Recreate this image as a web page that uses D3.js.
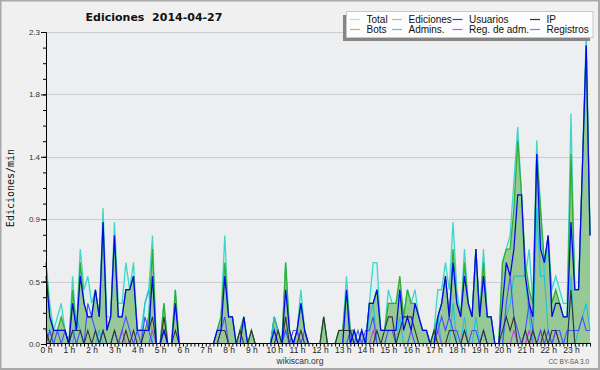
<!DOCTYPE html>
<head>
  <meta charset="utf-8">
  <script src="https://d3js.org/d3.v7.min.js"></script>
  <style>
    body { margin: 0; background: #f0f0f0; }
    svg text { font-family: "Liberation Sans", Arial, sans-serif; }
  </style>
</head>
<body>
  <svg width="600" height="370"></svg>
  <script>

  // values per 10 minutes, 0:00 .. 23:50 (144 points), edits per minute
  var total = [
    0.6,0.3,0.1,0.2,0.3,0.1,0,0.5,0.1,0.7,0.4,0.5,
    0.3,0.4,0.2,1.0,0.2,0.2,0.9,0.3,0.3,0.6,0.4,0.6,
    0.1,0.1,0.3,0.4,0.8,0,0,0.3,0,0,0.4,0,
    0,0,0,0,0,0,0,0,0,0.1,0.2,0.8,
    0.2,0.2,0,0.1,0.2,0,0.1,0,0,0,0,0,
    0.2,0.1,0,0.6,0.1,0,0.1,0.4,0.1,0,0,0,
    0,0.2,0,0,0,0.1,0.1,0.5,0.1,0.1,0,0.1,
    0,0.3,0.6,0.6,0.1,0.1,0.4,0.3,0.3,0.4,0.2,0.4,
    0.3,0.4,0.2,0.1,0.1,0,0.1,0.4,0.4,0.6,0.4,0.9,
    0.4,0.2,0.7,0.3,0.2,0.7,0.2,0.7,0.2,0.2,0,0,
    0.6,0.7,0.8,1.2,1.6,1.1,0.5,0.7,0.3,1.5,1.0,0.5,
    0.8,0.4,0.5,0.4,0.3,0.3,1.7,0.4,0.4,1.3,2.3,0.8
  ];
  var ediciones = [
    0.6,0.2,0.1,0.1,0.2,0.1,0,0.4,0.1,0.6,0.3,0.2,
    0.2,0.4,0.2,0.9,0.1,0.2,0.8,0.2,0.2,0.4,0.4,0.5,
    0.1,0.1,0.1,0.2,0.7,0,0,0.3,0,0,0.4,0,
    0,0,0,0,0,0,0,0,0,0.1,0.2,0.6,
    0.2,0.2,0,0.1,0.2,0,0.1,0,0,0,0,0,
    0.2,0.1,0,0.6,0.1,0,0.1,0.3,0.1,0,0,0,
    0,0.2,0,0,0,0.1,0.1,0.4,0.1,0.1,0,0.1,
    0,0.3,0.3,0.4,0.1,0.1,0.3,0.3,0.3,0.5,0.2,0.4,
    0.3,0.3,0.2,0.1,0.1,0,0.1,0.2,0.3,0.5,0.2,0.7,
    0.3,0.2,0.6,0.3,0.2,0.7,0.2,0.6,0.2,0.2,0,0,
    0.6,0.7,0.7,1.0,1.5,1.1,0.6,0.4,0.3,1.4,1.0,0.6,
    0.8,0.3,0.4,0.3,0.2,0.2,1.4,0.4,0.4,1.3,2.2,0.8
  ];
  var usuarios = [
    0.5,0.2,0.1,0.1,0.1,0.1,0,0.3,0.1,0.5,0.3,0.2,
    0.2,0.4,0.2,0.9,0.1,0.2,0.8,0.2,0.2,0.4,0.4,0.5,
    0.1,0.1,0.1,0.1,0.5,0,0,0.1,0,0,0.3,0,
    0,0,0,0,0,0,0,0,0,0.1,0.1,0.5,
    0.2,0.2,0,0,0.2,0,0,0,0,0,0,0,
    0.1,0,0,0.4,0.1,0,0.1,0.3,0.1,0,0,0,
    0,0,0,0,0,0,0,0.4,0,0.1,0,0.1,
    0,0.3,0.3,0.4,0.1,0.1,0.1,0.1,0.1,0.4,0.1,0.2,
    0.1,0.3,0.2,0.1,0.1,0,0,0.2,0.3,0.5,0.2,0.6,
    0.3,0.2,0.5,0.3,0.2,0.7,0.2,0.5,0.2,0.2,0,0,
    0.3,0.6,0.5,0.7,1.1,1.1,0.5,0.3,0.2,1.4,0.7,0.6,
    0.8,0.2,0.3,0.3,0.2,0.2,0.9,0.4,0.4,1.3,2.2,0.8
  ];
  var ip = [
    0.1,0,0.1,0.1,0.1,0.1,0,0.1,0.1,0.1,0,0.1,
    0,0.1,0,0.1,0,0,0.1,0,0,0.1,0,0.1,
    0,0,0.1,0.1,0.2,0,0,0.2,0,0,0.1,0,
    0,0,0,0,0,0,0,0,0,0,0.1,0.1,
    0,0,0,0.1,0,0,0.1,0,0,0,0,0,
    0,0.1,0,0.2,0,0,0,0.1,0,0,0,0,
    0,0.2,0,0,0,0.1,0.1,0.1,0.1,0,0,0,
    0,0,0,0.1,0,0.1,0.2,0.2,0,0.1,0.2,0.2,
    0.2,0.1,0,0,0,0,0.1,0,0,0,0.1,0.1,
    0,0,0.1,0,0,0,0,0.1,0,0,0,0,
    0.1,0.2,0.1,0.2,0,0,0.1,0,0.1,0,0,0.1,
    0,0.1,0.1,0,0,0,0.4,0,0,0,0,0
  ];
  var bots = [
    0,0,0,0,0,0,0,0,0,0,0,0, 0,0,0,0,0,0,0,0,0,0,0,0,
    0,0,0,0,0,0,0,0,0,0,0,0, 0,0,0,0,0,0,0,0,0,0,0,0,
    0,0,0,0,0,0,0,0,0,0,0,0, 0,0,0,0,0,0,0,0,0,0,0,0,
    0,0,0,0,0,0,0,0,0,0,0,0, 0,0,0,0,0,0,0,0,0,0,0,0,
    0,0,0,0,0,0,0,0,0,0,0,0, 0,0,0,0,0,0,0,0,0,0,0,0,
    0,0,0,0,0,0,0,0,0,0,0,0, 0,0,0,0,0,0,0,0,0,0,0,0
  ];
  var admins = [
    0.1,0.1,0,0,0,0,0,0,0.2,0.1,0,0,
    0,0,0.1,0,0,0,0,0,0,0,0,0,
    0,0,0.3,0.4,0,0,0,0,0,0,0,0,
    0,0,0,0,0,0,0,0,0,0,0,0,
    0,0,0,0,0,0,0,0,0,0,0,0,
    0.2,0.1,0,0.1,0,0,0.1,0,0,0,0,0,
    0,0,0,0,0,0,0,0,0,0,0,0,
    0,0.2,0.3,0,0,0,0,0,0,0.2,0,0,
    0,0,0,0,0,0,0,0.2,0,0,0,0.3,
    0,0,0.2,0,0,0.2,0,0.1,0,0,0,0,
    0,0.2,0.3,0.5,0.5,0.5,0.5,0.2,0,1.0,0.5,0.5,
    0.1,0,0.1,0.1,0,0,0.5,0,0.1,0.2,0.3,0.1
  ];
  var regAdm = [
    0,0,0,0,0,0,0,0,0,0,0,0,
    0,0,0,0,0,0,0,0,0.1,0,0,0,
    0,0,0,0,0.1,0,0,0,0,0,0,0,
    0,0,0,0,0,0,0,0,0,0,0,0,
    0,0,0,0,0,0,0,0,0,0,0,0,
    0,0,0,0,0,0,0.1,0,0,0,0,0,
    0,0,0,0,0,0,0,0,0,0,0,0,
    0,0,0.1,0,0,0,0,0,0,0,0,0,
    0,0,0,0,0,0,0,0.1,0,0,0,0,
    0,0,0.1,0,0,0,0,0,0,0,0,0,
    0,0,0,0.1,0,0,0,0.1,0,0,0.1,0,
    0,0,0.1,0,0,0,0,0,0,0,0,0
  ];
  var registros = [
    0,0.1,0,0.1,0,0.1,0,0.1,0,0.1,0,0.3,
    0.2,0.1,0,0.1,0,0,0.1,0,0.1,0.2,0.1,0,
    0.1,0,0.2,0.1,0,0,0,0.1,0,0,0,0,
    0,0,0,0,0,0,0,0,0,0,0.1,0.2,
    0,0,0,0,0,0,0,0,0,0,0,0,
    0,0,0,0.1,0,0.1,0.1,0,0.1,0,0,0,
    0,0,0,0,0,0,0,0,0.1,0,0.1,0,
    0.1,0.1,0.2,0,0,0,0.1,0.1,0,0,0,0,
    0.1,0,0,0,0,0,0,0.1,0.2,0.1,0.2,0.1,
    0.1,0,0,0,0.1,0.1,0,0.1,0,0,0,0,
    0,0.3,0.5,0.2,0.1,0,0.1,0.3,0.1,0,0.1,0,
    0.1,0,0.1,0.1,0,0.1,0.1,0.1,0.1,0.2,0.1,0.1
  ];

  var hourLabels = ["0 h","1 h","2 h","3 h","4 h","5 h","6 h","7 h","8 h","9 h","10 h","11 h",
                    "12 h","13 h","14 h","15 h","16 h","17 h","18 h","19 h","20 h","21 h","22 h","23 h"];
  var yTickValues = [0, 0.46, 0.92, 1.38, 1.84, 2.3];
  var yTickLabels = ["0.0","0.5","0.9","1.4","1.8","2.3"];

  var legendNames = ["Total","Ediciones","Usuarios","IP","Bots","Admins.","Reg. de adm.","Registros"];
  var legendColors = ["#a6e6de","#8fd48f","#3a3ae6","#333333","#f5a040","#3ccfe2","#d24fe6","#7c7cf2"];

  var svg = d3.select("svg"),
      width = +svg.attr("width"),
      height = +svg.attr("height");

  var x = d3.scaleLinear().domain([0, 143]).range([46, 590]);
  var y = d3.scaleLinear().domain([0, 2.3]).range([344, 32]);

  svg.append("rect").attr("width", width).attr("height", height).attr("fill", "#f0f0f0");
  svg.append("rect").attr("x", 0.5).attr("y", 0.5).attr("width", width - 1.5).attr("height", height - 1.5)
    .attr("fill", "none").attr("stroke", "#a9a9a9").attr("stroke-width", 2);
  svg.append("rect").attr("x", 46).attr("y", 32).attr("width", 544).attr("height", 311.5).attr("fill", "#edeef0");

  svg.append("clipPath").attr("id", "plot")
    .append("rect").attr("x", 44).attr("y", 20).attr("width", 550).attr("height", 323.4);

  // grid
  svg.append("g").selectAll("line")
    .data(yTickValues.slice(1))
    .enter().append("line")
    .attr("x1", 46).attr("x2", 590)
    .attr("y1", function(d) { return Math.round(y(d)) + 0.5; })
    .attr("y2", function(d) { return Math.round(y(d)) + 0.5; })
    .attr("stroke", "#cdcdd0");

  var idx = d3.range(total.length);

  var area = function(vals) {
    return d3.area().x(function(i) { return x(i); }).y0(y(0)).y1(function(i) { return y(vals[i]); })(idx);
  };
  var line = function(vals) {
    return d3.line().x(function(i) { return x(i); }).y(function(i) { return y(vals[i]); })(idx);
  };

  var plot = svg.append("g").attr("clip-path", "url(#plot)");

  plot.append("path").attr("d", area(total)).attr("fill", "#d9f1ee");
  plot.append("path").attr("d", area(ediciones)).attr("fill", "#97c997");

  var series = [
    { v: total, c: "#3fd5cb", w: 1.3 },
    { v: ediciones, c: "#2fae2f", w: 1.3 },
    { v: bots, c: "#f5a040", w: 1.1 },
    { v: admins, c: "#1fbfe0", w: 1.1 },
    { v: regAdm, c: "#c43fe0", w: 1.1 },
    { v: registros, c: "#4b4bff", w: 1.1 },
    { v: ip, c: "#333333", w: 1.1 },
    { v: usuarios, c: "#0505ee", w: 1.25 }
  ];

  plot.append("g").selectAll("path")
    .data(series)
    .enter().append("path")
    .attr("d", function(s) { return line(s.v); })
    .attr("fill", "none")
    .attr("stroke", function(s) { return s.c; })
    .attr("stroke-width", function(s) { return s.w; });

  // y axis
  svg.append("g").attr("transform", "translate(46,0)")
    .call(d3.axisLeft(y).tickValues(d3.range(21).map(function(k) { return k * 0.115; }))
      .tickSize(3).tickSizeOuter(0).tickFormat(""));
  var yAxis = svg.append("g").attr("transform", "translate(46,0)")
    .call(d3.axisLeft(y).tickValues(yTickValues).tickSize(5).tickSizeOuter(0).tickPadding(1)
      .tickFormat(function(d, i) { return yTickLabels[i]; }));
  yAxis.selectAll("text").attr("font-size", 8).attr("fill", "#333");

  // x axis
  var xAxis = svg.append("g").attr("transform", "translate(0,343)")
    .call(d3.axisBottom(x).tickValues(idx).tickSize(3.5).tickSizeOuter(0).tickFormat(""));
  xAxis.select(".domain").attr("d", "M46,0.5H590");
  var xLab = svg.append("g").attr("transform", "translate(0,344)")
    .call(d3.axisBottom(x).tickValues(d3.range(0, 144, 6)).tickSize(3).tickSizeOuter(0).tickPadding(0)
      .tickFormat(function(d, i) { return hourLabels[i]; }));
  xLab.select(".domain").remove();
  xLab.selectAll(".tick line").remove();
  xLab.selectAll("text").attr("font-size", 8.5).attr("fill", "#222");
  svg.selectAll(".domain, .tick line").attr("stroke", "#000");

  // title and labels
  svg.append("text").attr("x", 154).attr("y", 21).attr("text-anchor", "middle")
    .style("font-family", "'DejaVu Sans', sans-serif").style("white-space", "pre")
    .attr("font-size", 11).attr("font-weight", "bold").attr("fill", "#111")
    .text("Ediciones  2014-04-27");

  svg.append("text").attr("transform", "translate(14,188) rotate(-90)").attr("text-anchor", "middle")
    .style("font-family", "'DejaVu Sans Mono', monospace")
    .attr("font-size", 10).attr("fill", "#111").text("Ediciones/min");

  svg.append("text").attr("x", 300).attr("y", 364).attr("text-anchor", "middle")
    .attr("font-size", 8.5).attr("fill", "#333").text("wikiscan.org");
  svg.append("text").attr("x", 589).attr("y", 364).attr("text-anchor", "end")
    .attr("font-size", 6.5).attr("fill", "#555").text("CC BY-SA 3.0");

  // legend
  svg.append("rect").attr("x", 343).attr("y", 15).attr("width", 247).attr("height", 26).attr("fill", "#858585");
  svg.append("rect").attr("x", 346.5).attr("y", 11.5).attr("width", 246.5).attr("height", 26)
    .attr("fill", "#fdfdfd").attr("stroke", "#c8c8c8");

  var colX = [350, 392, 452.5, 530];
  var legend = svg.append("g").selectAll("g")
    .data(legendNames)
    .enter().append("g")
    .attr("transform", function(d, i) {
      return "translate(" + colX[i % 4] + "," + (19 + Math.floor(i / 4) * 10) + ")";
    });
  legend.append("line").attr("x1", 0).attr("x2", 10).attr("y1", 0.5).attr("y2", 0.5)
    .attr("stroke", function(d, i) { return legendColors[i]; }).attr("stroke-width", 1.2);
  legend.append("text").attr("x", 16.5).attr("y", 3.5).attr("font-size", 10).attr("fill", "#111")
    .text(function(d) { return d; });

  </script>
</body>
